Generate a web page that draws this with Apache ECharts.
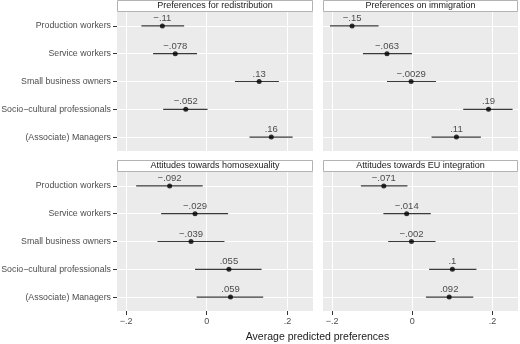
<!DOCTYPE html>
<html>
<head>
<meta charset="utf-8">
<script src="https://cdn.jsdelivr.net/npm/echarts@6/dist/echarts.min.js"></script>
<style>
  html, body { margin: 0; padding: 0; background: #fff; }
  #chart { width: 520px; height: 344px; }
</style>
</head>
<body>
<div id="chart"></div>
<script>
const categories = ['Production workers', 'Service workers', 'Small business owners', 'Socio\u2212cultural professionals', '(Associate) Managers']
const panelTitles = ['Preferences for redistribution', 'Preferences on immigration', 'Attitudes towards homosexuality', 'Attitudes towards EU integration']
const xTicks = [-0.2, 0, 0.2]

// estimate, lower and upper bound per category
const redistEst = [-0.11, -0.078, 0.13, -0.052, 0.16]
const redistLo = [-0.162, -0.133, 0.070, -0.108, 0.106]
const redistHi = [-0.056, -0.024, 0.179, 0.002, 0.213]

const immigEst = [-0.15, -0.063, -0.0029, 0.19, 0.11]
const immigLo = [-0.205, -0.123, -0.063, 0.127, 0.048]
const immigHi = [-0.084, -0.001, 0.059, 0.250, 0.171]

const homoEst = [-0.092, -0.029, -0.039, 0.055, 0.059]
const homoLo = [-0.175, -0.113, -0.122, -0.029, -0.025]
const homoHi = [-0.010, 0.053, 0.044, 0.136, 0.140]

const euEst = [-0.071, -0.014, -0.002, 0.1, 0.092]
const euLo = [-0.128, -0.072, -0.060, 0.042, 0.034]
const euHi = [-0.012, 0.046, 0.058, 0.160, 0.152]

const panels = [
  { est: redistEst, lo: redistLo, hi: redistHi },
  { est: immigEst, lo: immigLo, hi: immigHi },
  { est: homoEst, lo: homoLo, hi: homoHi },
  { est: euEst, lo: euLo, hi: euHi }
]

const FONT = '"Liberation Sans", Arial, sans-serif'
const rowValues = categories.map((c, i) => i + 1)

const fmt = (v) => {
  if (v === 0) return '0'
  return (v < 0 ? '\u2212' : '') + String(Math.abs(v)).replace(/^0/, '')
}

const boxes = [
  { left: 117, top: 12, width: 196, height: 139 },
  { left: 323, top: 12, width: 195, height: 139 },
  { left: 117, top: 172, width: 196, height: 139 },
  { left: 323, top: 172, width: 195, height: 139 }
]

const chart = echarts.init(document.getElementById('chart'))

const grid = boxes.map(b => ({
  left: b.left, top: b.top, width: b.width, height: b.height,
  outerBoundsMode: 'none', containLabel: false,
  show: true, backgroundColor: '#ebebeb', borderWidth: 0
}))

const xAxis = boxes.map((b, i) => ({
  type: 'value',
  gridIndex: i,
  min: -0.2225,
  max: 0.2635,
  axisLine: { show: false, onZero: false },
  axisTick: {
    show: i >= 2, length: 4, customValues: xTicks,
    lineStyle: { color: '#333', width: 1 }
  },
  axisLabel: {
    show: i >= 2, customValues: xTicks, formatter: fmt,
    color: '#4d4d4d', fontSize: 9, fontFamily: FONT, margin: 6
  },
  splitLine: { show: false }
}))

const yAxis = boxes.map((b, i) => ({
  type: 'value',
  gridIndex: i,
  min: 0.5,
  max: 5.5,
  inverse: true,
  axisLine: { show: false, onZero: false },
  axisTick: {
    show: i % 2 === 0, length: 4, customValues: rowValues,
    lineStyle: { color: '#333', width: 1 }
  },
  axisLabel: {
    show: i % 2 === 0, customValues: rowValues,
    formatter: v => categories[Math.round(v) - 1] || '',
    color: '#4d4d4d', fontSize: 8.8, fontFamily: FONT, margin: 6
  },
  splitLine: { show: false }
}))

const gridLineStyle = { color: '#fff', width: 1, type: 'solid' }

const series = []
panels.forEach((p, i) => {
  // white panel grid lines, placed through the axes
  series.push({
    type: 'scatter',
    xAxisIndex: i,
    yAxisIndex: i,
    data: [],
    silent: true,
    z: 1,
    markLine: {
      silent: true,
      z: 1,
      symbol: 'none',
      label: { show: false },
      lineStyle: gridLineStyle,
      animation: false,
      data: xTicks.map(v => ({ xAxis: v })).concat(rowValues.map(v => ({ yAxis: v })))
    }
  })
  series.push({
    type: 'custom',
    xAxisIndex: i,
    yAxisIndex: i,
    encode: { x: [0, 1], y: 2 },
    data: p.lo.map((lo, k) => [lo, p.hi[k], k + 1]),
    renderItem: (params, api) => {
      const a = api.coord([api.value(0), api.value(2)])
      const b = api.coord([api.value(1), api.value(2)])
      return {
        type: 'line',
        shape: { x1: a[0], y1: a[1], x2: b[0], y2: b[1] },
        style: { stroke: '#3a3a3a', lineWidth: 1.2 }
      }
    },
    silent: true,
    z: 10
  })
  series.push({
    type: 'scatter',
    xAxisIndex: i,
    yAxisIndex: i,
    data: p.est.map((v, k) => [v, k + 1]),
    symbolSize: 5,
    itemStyle: { color: '#000' },
    label: {
      show: true,
      position: 'top',
      distance: 0,
      formatter: d => fmt(d.value[0]),
      color: '#222',
      fontSize: 9.5,
      fontFamily: FONT
    },
    silent: true,
    z: 11
  })
})

const graphic = []
boxes.forEach((b, i) => {
  graphic.push({
    type: 'rect',
    shape: { x: b.left + 0.5, y: b.top - 11.5, width: b.width - 1, height: 11 },
    style: { fill: '#fff', stroke: '#b3b3b3', lineWidth: 1 },
    silent: true
  })
  graphic.push({
    type: 'text',
    x: b.left + b.width / 2,
    y: b.top - 6,
    style: {
      text: panelTitles[i],
      fill: '#1a1a1a',
      font: '9px ' + FONT,
      textAlign: 'center',
      textVerticalAlign: 'middle'
    },
    silent: true
  })
})
graphic.push({
  type: 'text',
  x: 317.5,
  y: 337,
  style: {
    text: 'Average predicted preferences',
    fill: '#1a1a1a',
    font: '10.5px ' + FONT,
    textAlign: 'center',
    textVerticalAlign: 'middle'
  },
  silent: true
})

chart.setOption({
  animation: false,
  grid,
  xAxis,
  yAxis,
  series,
  graphic
})

window.addEventListener('resize', () => chart.resize())
</script>
</body>
</html>
